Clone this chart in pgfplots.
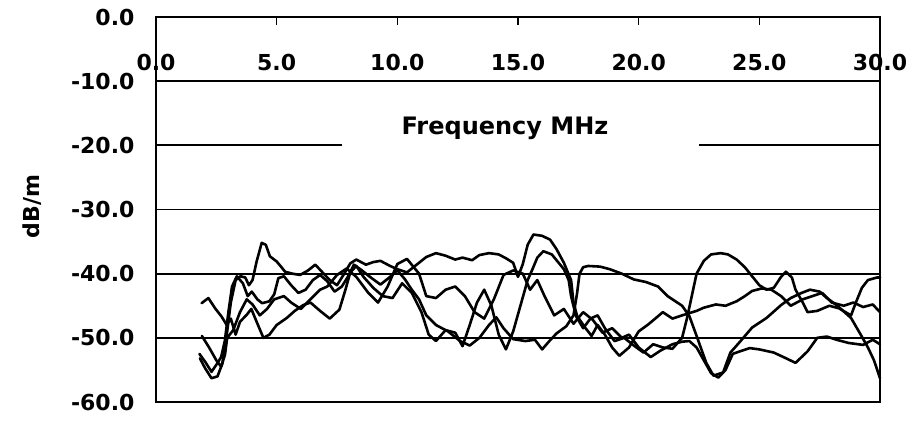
\documentclass[border=0pt]{standalone}
\usepackage{fontspec}
\setmainfont{DejaVu Sans}
\usepackage{pgfplots}
\pgfplotsset{compat=1.18}

\newcommand{\lblfont}{\fontsize{22}{26}\selectfont\bfseries}

\begin{document}
\begin{tikzpicture}
\path[use as bounding box] (-156pt,-19pt) rectangle (758pt,402pt);
\begin{axis}[
  at={(0pt,0pt)}, anchor=south west,
  scale only axis, width=724pt, height=385pt,
  xmin=0, xmax=30, ymin=-60, ymax=0,
  axis line style={line width=2.4pt},
  xtick={0,5,...,30},
  xticklabels={0.0,5.0,10.0,15.0,20.0,25.0,30.0},
  xtick pos=upper, xticklabel pos=upper, xtick align=inside,
  major tick length=8pt,
  xtick style={line width=1.6pt, black},
  xticklabel style={font=\lblfont, anchor=center, yshift=-45pt},
  ytick={0,-10,...,-60},
  yticklabels={0.0,-10.0,-20.0,-30.0,-40.0,-50.0,-60.0},
  ytick style={draw=none},
  yticklabel style={font=\lblfont, xshift=-18pt},
  clip=false,
  trace/.style={black, no markers, line width=2.6pt, line join=round, line cap=round},
]
% reference levels
\draw[line width=1.8pt] (0,-10) -- (30,-10);
\draw[line width=1.8pt] (0,-20) -- (7.7,-20);
\draw[line width=1.8pt] (22.5,-20) -- (30,-20);
\draw[line width=1.8pt] (0,-30) -- (30,-30);
\draw[line width=1.8pt] (0,-40) -- (30,-40);
\draw[line width=1.8pt] (0,-50) -- (30,-50);

\node[font=\fontsize{24}{28}\selectfont\bfseries] at (14.46,-17.3) {Frequency MHz};
\node[font=\lblfont, rotate=90] at (-5.14,-29.5) {dB/m};

% measurement 1
\addplot[trace] coordinates {(1.82,-53.2)(2.03,-54.7)(2.3,-56.3)(2.55,-56)(2.75,-54)(2.95,-49)(3.1,-44.5)(3.3,-41)(3.5,-40.4)(3.7,-40.6)(3.85,-41.8)(4.0,-41)(4.17,-38.1)(4.38,-35.2)(4.55,-35.5)(4.72,-37.3)(5.0,-38.1)(5.2,-39)(5.35,-39.7)(5.65,-40)(5.97,-40.2)(6.3,-39.5)(6.6,-38.6)(6.9,-39.8)(7.2,-41)(7.5,-41.8)(7.8,-40)(8.05,-38.4)(8.3,-37.8)(8.7,-38.6)(9.0,-38.2)(9.3,-38)(9.7,-38.8)(10.0,-39.3)(10.4,-39.8)(10.8,-38.6)(11.2,-37.4)(11.6,-36.8)(12.0,-37.2)(12.4,-37.8)(12.7,-37.5)(13.1,-37.9)(13.4,-37.1)(13.8,-36.8)(14.2,-37)(14.5,-37.6)(14.8,-38.3)(15.0,-40.5)(15.2,-38.5)(15.4,-35.5)(15.64,-33.9)(16.0,-34.1)(16.33,-34.7)(16.6,-36.2)(16.9,-38.3)(17.2,-41)(17.3,-44.5)(17.45,-46.6)(17.8,-48.5)(18.05,-49.7)(18.3,-48)(18.6,-49.5)(18.9,-51.5)(19.2,-52.8)(19.6,-51.5)(20.0,-49)(20.4,-47.9)(20.75,-46.8)(21.0,-46)(21.4,-47)(21.8,-46.5)(22.4,-45.8)(22.7,-45.3)(23.2,-44.8)(23.6,-45)(24.06,-44.3)(24.4,-43.5)(24.7,-42.7)(25.1,-42.3)(25.5,-42.5)(25.9,-43.5)(26.3,-45)(26.8,-44)(27.2,-43.5)(27.6,-43)(28.0,-44.5)(28.5,-45)(28.9,-44.5)(29.3,-45.2)(29.7,-44.8)(30.0,-46)};

% measurement 2
\addplot[trace] coordinates {(1.89,-44.6)(2.17,-43.8)(2.45,-45.4)(2.72,-46.7)(2.93,-48)(3.1,-47)(3.3,-49.5)(3.48,-47.5)(3.76,-46.4)(3.95,-45.5)(4.17,-47.5)(4.45,-50)(4.7,-49.5)(5.0,-48)(5.42,-46.9)(5.75,-45.8)(6.1,-44.9)(6.4,-44.5)(6.8,-45.8)(7.2,-47)(7.6,-45.6)(7.85,-42.5)(8.05,-39.8)(8.3,-38.8)(8.6,-40.5)(9.0,-42.2)(9.4,-43.5)(9.8,-43.8)(10.2,-41.5)(10.6,-43)(11.0,-46)(11.3,-49.5)(11.6,-50.5)(12.0,-48.8)(12.4,-49.2)(12.7,-51.3)(13.0,-48)(13.3,-44.5)(13.6,-42.5)(13.9,-45)(14.2,-49.5)(14.5,-51.8)(14.8,-49)(15.1,-45)(15.4,-41)(15.6,-39.3)(15.8,-37.5)(16.05,-36.5)(16.4,-37)(16.9,-39.3)(17.1,-41)(17.2,-43.5)(17.4,-46.6)(17.7,-48.5)(18.0,-47)(18.3,-46.5)(18.6,-48.5)(19.0,-50.5)(19.4,-50)(19.8,-51.2)(20.2,-52.3)(20.6,-51)(21.0,-51.5)(21.4,-51.7)(21.8,-50)(22.0,-47)(22.2,-43.5)(22.4,-40)(22.7,-38)(23.0,-37)(23.4,-36.8)(23.7,-37)(24.06,-37.8)(24.4,-39)(24.7,-40.4)(25.0,-41.8)(25.3,-42.5)(25.6,-42.2)(25.9,-40.5)(26.1,-39.7)(26.35,-40.6)(26.5,-42.5)(26.8,-44.5)(27.0,-46)(27.4,-45.8)(27.9,-45)(28.3,-45.4)(28.8,-46.5)(29.0,-44.5)(29.25,-42.2)(29.5,-41)(29.87,-40.6)(30.0,-40.6)};

% measurement 3
\addplot[trace] coordinates {(1.8,-52.5)(2.05,-53.8)(2.3,-55.3)(2.5,-54.2)(2.7,-53)(2.85,-50.5)(3.0,-46)(3.15,-42)(3.35,-40.4)(3.6,-41.5)(3.8,-43.5)(3.97,-42.8)(4.2,-44)(4.4,-44.6)(4.7,-44.3)(4.9,-43.2)(5.07,-40.7)(5.3,-40.4)(5.6,-41.8)(5.9,-43)(6.2,-42.5)(6.5,-41)(6.8,-40.2)(7.1,-41.2)(7.4,-42.8)(7.7,-42)(7.95,-40.5)(8.2,-38.6)(8.5,-39.4)(8.9,-40.6)(9.3,-41.7)(9.7,-40.5)(10.0,-39.5)(10.3,-40.8)(10.6,-42.5)(10.9,-44)(11.2,-46.5)(11.6,-48)(12.1,-49)(12.6,-50.5)(13.0,-51.2)(13.4,-50)(13.8,-48)(14.1,-46.8)(14.4,-48.5)(14.8,-50.2)(15.3,-50.5)(15.7,-50.3)(16.0,-51.8)(16.3,-50.5)(16.6,-49.3)(17.0,-48.2)(17.3,-46.5)(17.45,-43)(17.55,-40)(17.7,-39)(17.9,-38.8)(18.4,-38.9)(18.8,-39.3)(19.3,-40)(19.8,-40.9)(20.3,-41.3)(20.8,-42)(21.2,-43.5)(21.8,-45)(22.1,-46.6)(22.4,-49.7)(22.8,-53.9)(23.1,-55.9)(23.5,-55.4)(23.8,-52.3)(24.2,-50.6)(24.7,-48.4)(25.3,-46.9)(25.9,-44.9)(26.3,-43.8)(26.75,-43)(27.1,-42.5)(27.5,-42.8)(27.8,-43.8)(28.2,-44.9)(28.8,-46.9)(29.2,-49.5)(29.5,-51.5)(29.75,-53.5)(30.0,-56.3)};

% measurement 4
\addplot[trace] coordinates {(1.9,-49.7)(2.2,-51.5)(2.5,-53.5)(2.7,-54.5)(2.86,-52.6)(2.95,-50)(3.2,-48.8)(3.48,-46)(3.76,-44)(4.0,-44.8)(4.3,-46.5)(4.6,-45.5)(4.9,-44)(5.3,-43.5)(5.6,-44.5)(6.0,-45.5)(6.4,-44)(6.8,-42.5)(7.1,-42)(7.5,-40.2)(7.9,-39.2)(8.3,-40.5)(8.8,-43)(9.2,-44.5)(9.6,-42)(10.0,-38.5)(10.4,-37.7)(10.9,-40)(11.2,-43.5)(11.6,-43.8)(12.0,-42.5)(12.4,-42)(12.8,-43.5)(13.2,-46)(13.6,-47)(14.0,-44)(14.4,-40.2)(14.8,-39.5)(15.2,-40)(15.5,-42.5)(15.8,-41)(16.1,-43.5)(16.5,-46.5)(16.9,-45.5)(17.3,-47.8)(17.7,-46)(18.1,-47.2)(18.5,-49.2)(18.9,-48.5)(19.3,-50)(19.6,-49.5)(20.0,-51.5)(20.5,-53)(20.9,-52)(21.4,-51)(21.8,-50.6)(22.1,-50.5)(22.4,-51.5)(22.7,-53.5)(23.0,-55.5)(23.3,-56.2)(23.6,-55)(23.9,-52.5)(24.2,-52.1)(24.6,-51.6)(25.0,-51.8)(25.6,-52.3)(26.0,-53)(26.5,-53.9)(27.0,-52.1)(27.4,-50)(27.8,-49.8)(28.2,-50.3)(28.7,-50.8)(29.3,-51.1)(29.7,-50.3)(30.0,-51)};
\end{axis}
\end{tikzpicture}
\end{document}
